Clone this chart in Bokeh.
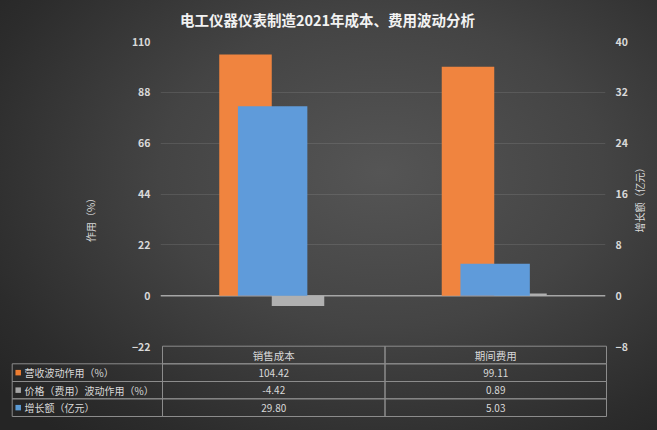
import math
from bokeh.plotting import figure
from bokeh.models import Range1d, LinearAxis, FixedTicker, Span, ColumnDataSource
from bokeh.core.properties import value
from bokeh.embed import file_html
from bokeh.resources import INLINE

# ---------------- data ----------------
chart_title = "电工仪器仪表制造2021年成本、费用波动分析"
categories = ["销售成本", "期间费用"]
series_names = ["营收波动作用（%）", "价格（费用）波动作用（%）", "增长额（亿元）"]
revenue_effect = [104.42, 99.11]
price_effect = [-4.42, 0.89]
growth_amount = [29.80, 5.03]
left_ticks = [-22, 0, 22, 44, 66, 88, 110]
right_ticks = [-8, 0, 8, 16, 24, 32, 40]
left_title = "作用（%）"
right_title = "增长额（亿元）"

# ---------------- style ----------------
FONT = "Noto Sans CJK SC"
TXT = "#d9d9d9"
ORANGE = "#f0843f"
GRAY = "#b0b0b0"
BLUE = "#5f9bda"
SWATCH = ["#ed7d31", "#a5a5a5", "#5b9bd5"]
LINE = "#8c8c8c"

W, H = 657, 430
FL, FR, FT, FB = 160, 605, 41, 346   # plot frame edges on the canvas

n = len(categories)
p = figure(width=W, height=H, title=None,
           x_range=Range1d(0, n),
           y_range=Range1d(left_ticks[0], left_ticks[-1]),
           output_backend="svg", toolbar_location=None,
           min_border_left=FL, min_border_right=W - FR,
           min_border_top=FT, min_border_bottom=H - FB)
p.extra_y_ranges = {"right": Range1d(right_ticks[0], right_ticks[-1]),
                    "py": Range1d(FB, FT)}
p.extra_x_ranges = {"px": Range1d(FL, FR)}

p.background_fill_alpha = 0
p.border_fill_alpha = 0
p.outline_line_color = None
p.styles = {"background": "radial-gradient(ellipse 75% 80% at 58% 40%, #555555 0%, #444444 45%, #2c2c2c 85%, #252525 100%)"}

p.xaxis.visible = False
p.xgrid.visible = False
p.yaxis.ticker = FixedTicker(ticks=left_ticks)
ra = LinearAxis(y_range_name="right", ticker=FixedTicker(ticks=right_ticks))
p.add_layout(ra, "right")
for ax in p.yaxis:
    ax.axis_line_color = None
    ax.major_tick_line_color = None
    ax.minor_tick_line_color = None
    ax.major_tick_out = 0
    ax.major_tick_in = 0
    ax.major_label_standoff = 10
    ax.major_label_text_color = TXT
    ax.major_label_text_font = FONT
    ax.major_label_text_font_size = "10.5px"
    ax.major_label_text_font_style = "bold"
p.ygrid.ticker = FixedTicker(ticks=left_ticks[1:])
p.ygrid.grid_line_color = "#ffffff"
p.ygrid.grid_line_alpha = 0.1

p.add_layout(Span(location=0, dimension="width", line_color="#a6a6a6",
                  line_width=1.5, level="underlay"))

centers = [i + 0.5 for i in range(n)]
src = ColumnDataSource(dict(
    x_rev=[c - 0.118 for c in centers], rev=revenue_effect,
    x_price=[c + 0.118 for c in centers], price=price_effect,
    x_growth=[c + 0.004 for c in centers], growth=growth_amount))
p.vbar(x="x_rev", top="rev", bottom=0, width=0.236, source=src,
       fill_color=ORANGE, line_color=None)
p.vbar(x="x_price", top="price", bottom=0, width=0.236, source=src,
       fill_color=GRAY, line_color=None)
p.vbar(x="x_growth", top="growth", bottom=0, width=0.312, source=src,
       fill_color=BLUE, line_color=None, y_range_name="right")

PX = dict(x_range_name="px", y_range_name="py", level="overlay")

def txt(xs, ys, texts, size="10px", align="center", color=TXT, angle=0, style="normal"):
    p.text(x=xs, y=ys, text=texts, angle=angle, text_align=align,
           text_baseline="middle", text_color=color, text_font=value(FONT),
           text_font_size=size, text_font_style=style, **PX)

# title and axis titles
txt([327], [18.5], [chart_title], size="14.5px", color="#f2f2f2", style="bold")
txt([90], [217], [left_title], angle=math.pi / 2)
txt([639], [197], [right_title], angle=math.pi / 2)

# data table
cols = [11.7, 162, 384.5, 606]
rows = [345.7, 363.3, 381, 398.3, 416]
mid = lambda a, b: (a + b) / 2

cell_l, cell_r, cell_t, cell_b = [], [], [], []
def cell(l, r, t, b):
    cell_l.append(l); cell_r.append(r); cell_t.append(t); cell_b.append(b)

for i in range(n):
    cell(cols[i + 1], cols[i + 2], rows[0], rows[1])
txt([mid(cols[i + 1], cols[i + 2]) for i in range(n)],
    [mid(rows[0], rows[1])] * n, categories, size="10.5px")

series_values = [revenue_effect, price_effect, growth_amount]
sw_y = []
for r, vals in enumerate(series_values):
    t, b = rows[r + 1], rows[r + 2]
    yc = mid(t, b)
    sw_y.append(yc)
    cell(cols[0], cols[1], t, b)
    for i in range(n):
        cell(cols[i + 1], cols[i + 2], t, b)
    txt([mid(cols[i + 1], cols[i + 2]) for i in range(n)], [yc] * n,
        [f"{v:.2f}" for v in vals])
txt([24] * len(series_names), sw_y, series_names, align="left")

p.quad(left=cell_l, right=cell_r, top=cell_t, bottom=cell_b,
       fill_alpha=0, line_color=LINE, line_width=1, **PX)
p.rect(x=[17.7] * 3, y=sw_y, width=5.5, height=5.5, fill_color=SWATCH,
       line_color=None, **PX)

open("out.html", "w").write(file_html(p, INLINE))
